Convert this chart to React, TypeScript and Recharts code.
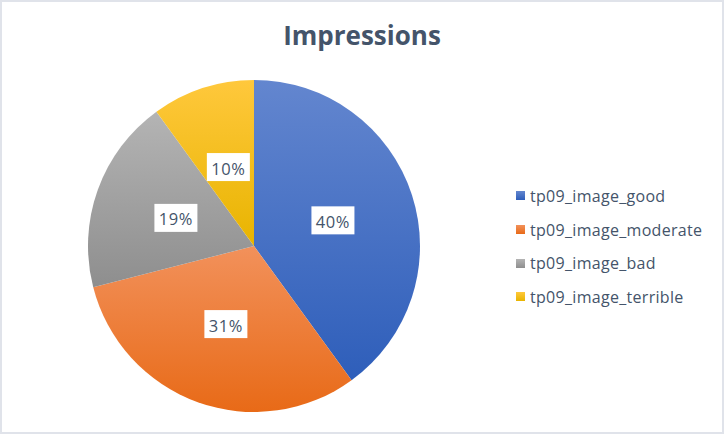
import React from 'react';
import { PieChart, Pie, Cell, Legend } from 'recharts';

const categories = ['tp09_image_good', 'tp09_image_moderate', 'tp09_image_bad', 'tp09_image_terrible'];
const shares = [40, 31, 19, 10];

const gradTop = ['#6386CF', '#F2915B', '#B4B4B4', '#FFC83C'];
const gradBottom = ['#2E5EBA', '#E86A17', '#8E8E8E', '#E8B400'];

const data = categories.map((name, i) => ({ name, value: shares[i] }));

const FONT = '"Open Sans", "Noto Sans", sans-serif';
const TEXT = '#44546A';
const RADIAN = Math.PI / 180;

const renderLabel = ({ cx, cy, midAngle, outerRadius, percent }: any) => {
  const r = outerRadius * 0.5;
  const x = cx + r * Math.cos(-midAngle * RADIAN);
  const y = cy + r * Math.sin(-midAngle * RADIAN);
  return (
    <g>
      <rect x={x - 21.5} y={y - 14} width={43} height={28} fill="#ffffff" />
      <text
        x={x}
        y={y + 1}
        textAnchor="middle"
        dominantBaseline="central"
        fill={TEXT}
        fontSize={16.5}
        letterSpacing={0.6}
        fontFamily={FONT}
      >
        {`${Math.round(percent * 100)}%`}
      </text>
    </g>
  );
};

const LegendContent = () => (
  <div style={{ fontFamily: FONT }}>
    {categories.map((name, i) => (
      <div key={name} style={{ display: 'flex', alignItems: 'center', height: 33.7 }}>
        <span
          style={{
            display: 'inline-block',
            width: 9,
            height: 9,
            background: `linear-gradient(${gradTop[i]}, ${gradBottom[i]})`,
            marginRight: 5,
          }}
        />
        <span style={{ fontSize: 16, letterSpacing: 0.3, color: TEXT, whiteSpace: 'nowrap' }}>{name}</span>
      </div>
    ))}
  </div>
);

export default function App() {
  return (
    <div
      style={{
        position: 'fixed',
        left: 0,
        top: 0,
        width: 724,
        height: 434,
        background: '#ffffff',
        boxSizing: 'border-box',
        border: '2px solid #E0E3EA',
      }}
    >
      <div
        style={{
          position: 'absolute',
          left: 0,
          top: 16,
          width: 720,
          textAlign: 'center',
          fontFamily: FONT,
          fontWeight: 700,
          fontSize: 26,
          color: TEXT,
          lineHeight: '34px',
        }}
      >
        Impressions
      </div>
      <div style={{ position: 'absolute', left: -2, top: -2 }}>
        <PieChart width={724} height={434} margin={{ top: 0, right: 0, bottom: 0, left: 0 }}>
          <defs>
            {categories.map((name, i) => (
              <linearGradient key={name} id={`grad${i}`} x1="0" y1="0" x2="0" y2="1">
                <stop offset="0%" stopColor={gradTop[i]} />
                <stop offset="100%" stopColor={gradBottom[i]} />
              </linearGradient>
            ))}
          </defs>
          <Pie
            data={data}
            dataKey="value"
            nameKey="name"
            cx={254}
            cy={246}
            outerRadius={166}
            startAngle={90}
            endAngle={-270}
            stroke="none"
            label={renderLabel}
            labelLine={false}
            isAnimationActive={false}
          >
            {data.map((d, i) => (
              <Cell key={d.name} fill={`url(#grad${i})`} />
            ))}
          </Pie>
          <Legend
            layout="vertical"
            content={<LegendContent />}
            wrapperStyle={{ position: 'absolute', left: 516, top: 179, width: 200 }}
          />
        </PieChart>
      </div>
    </div>
  );
}
